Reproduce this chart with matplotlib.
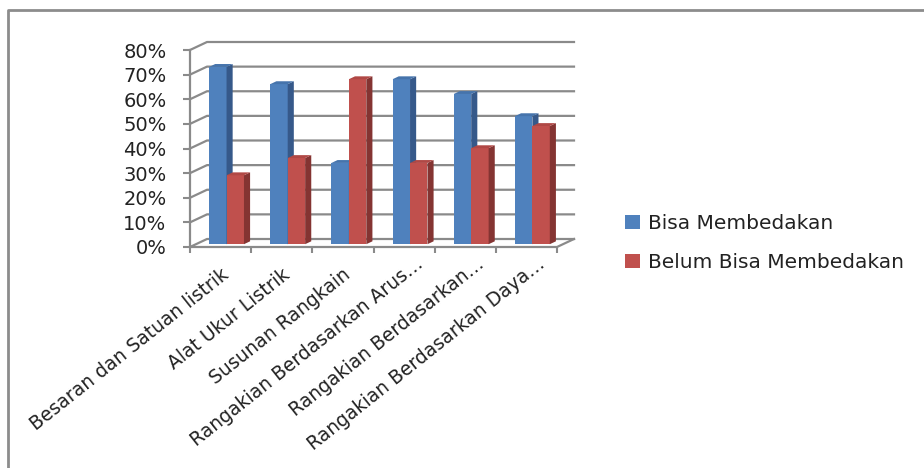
import numpy as np
import matplotlib
matplotlib.use("Agg")
import matplotlib.pyplot as plt
from matplotlib.patches import Polygon
from matplotlib.lines import Line2D
from matplotlib.transforms import ScaledTranslation

categories = ["Besaran dan Satuan listrik", "Alat Ukur Listrik", "Susunan Rangkain",
              "Rangakian Berdasarkan Arus…", "Rangakian Berdasarkan…",
              "Rangakian Berdasarkan Daya…"]
bisa = [0.72, 0.65, 0.33, 0.67, 0.61, 0.52]
belum = [0.28, 0.35, 0.67, 0.33, 0.39, 0.48]
series_names = ["Bisa Membedakan", "Belum Bisa Membedakan"]
yticks = [0.0, 0.1, 0.2, 0.3, 0.4, 0.5, 0.6, 0.7, 0.8]
ytick_labels = ["0%", "10%", "20%", "30%", "40%", "50%", "60%", "70%", "80%"]

plt.rcParams['font.family'] = ['DejaVu Sans']
W, H = 924, 468
fig = plt.figure(figsize=(W / 100, H / 100), dpi=100)

# front plane of the 3D box in pixels
px0, px1, py_top, py_bot = 190, 557, 50, 247
ax = fig.add_axes([px0 / W, (H - py_bot) / H, (px1 - px0) / W, (py_bot - py_top) / H])
n = len(categories)
ax.set_xlim(0, n)
ax.set_ylim(0, 0.8)
for s in ax.spines.values():
    s.set_visible(False)
ax.patch.set_visible(False)

xs_per_px = n / (px1 - px0)
ys_per_px = 0.8 / (py_bot - py_top)
DX = 17 * xs_per_px   # full depth offset in data units
DY = 8 * ys_per_px

grid_c = "#8a8a8a"
# back wall gridlines + side wall diagonals
for v in yticks:
    ax.plot([0, DX, n + DX], [v, v + DY, v + DY], color=grid_c, lw=1.6, clip_on=False, zorder=1)
# front axis line
ax.plot([0, 0], [0, 0.8], color=grid_c, lw=1.6, clip_on=False, zorder=1)
# floor front edge + right diagonal
ax.plot([0, n, n + DX], [0, 0, DY], color=grid_c, lw=1.6, clip_on=False, zorder=1)

# ticks
ax.set_yticks(yticks)
ax.set_yticklabels(ytick_labels, fontsize=14, color="#222222")
ax.tick_params(axis='y', length=5, width=1.5, color=grid_c, pad=12)
ax.set_xticks(np.arange(0, n + 1))
ax.set_xticklabels([])
ax.tick_params(axis='x', length=4, width=1.5, color=grid_c, direction='out')

# bars
blue_front, blue_side, blue_top = "#4F81BD", "#36598A", "#4674AC"
red_front, red_side, red_top = "#C0504D", "#843432", "#B04845"
w = 0.285
f = 0.35   # depth position of bar front
g = 0.36   # bar depth
x = np.arange(n)
b1 = ax.bar(x + 0.5 - w / 2 + f * DX, bisa, width=w, bottom=f * DY,
            color=blue_front, clip_on=False, label=series_names[0])
b2 = ax.bar(x + 0.5 + w / 2 + f * DX, belum, width=w, bottom=f * DY,
            color=red_front, clip_on=False, label=series_names[1])

def faces(xc, h, z, side_c, top_c):
    x0 = xc - w / 2 + f * DX
    x1 = xc + w / 2 + f * DX
    y0 = f * DY
    ddx, ddy = g * DX, g * DY
    side = Polygon([(x1, y0), (x1 + ddx, y0 + ddy), (x1 + ddx, y0 + h + ddy), (x1, y0 + h)],
                   closed=True, facecolor=side_c, edgecolor='none', zorder=z, clip_on=False)
    top = Polygon([(x0, y0 + h), (x1, y0 + h), (x1 + ddx, y0 + h + ddy), (x0 + ddx, y0 + h + ddy)],
                  closed=True, facecolor=top_c, edgecolor='none', zorder=z, clip_on=False)
    ax.add_patch(side)
    ax.add_patch(top)

for i in range(n):
    zb = 3 + i * 2
    zr = 4 + i * 2
    b1.patches[i].set_zorder(zb)
    b2.patches[i].set_zorder(zr)
    faces(i + 0.5 - w / 2, bisa[i], zb, blue_side, blue_top)
    faces(i + 0.5 + w / 2, belum[i], zr, red_side, red_top)

# category labels (baseline end anchored below each category)
for i, c in enumerate(categories):
    if c.endswith("…"):
        dxp, dyp = 20, -19
    else:
        dxp, dyp = 9, -30
    off = ScaledTranslation(dxp / 100, dyp / 100, fig.dpi_scale_trans)
    ax.text(i + 0.5, 0, c, transform=ax.get_xaxis_transform() + off, rotation=38.5,
            rotation_mode='anchor', ha='right', va='baseline', fontsize=13.5, color="#222222")

# legend
fig.legend(handles=[b1, b2], labels=series_names, loc='center left',
           bbox_to_anchor=(607 / W, 1 - 243 / H), frameon=False, fontsize=14.5,
           handlelength=0.75, handleheight=0.75, handletextpad=0.4, labelspacing=1.0,
           labelcolor="#222222")

# outer frame (left and top)
fig.add_artist(Line2D([8 / W, 8 / W, 1.0], [0.0, 1 - 10 / H, 1 - 10 / H],
                      transform=fig.transFigure, color="#8c8c8c", lw=2))

fig.savefig("out.png", dpi=100)
